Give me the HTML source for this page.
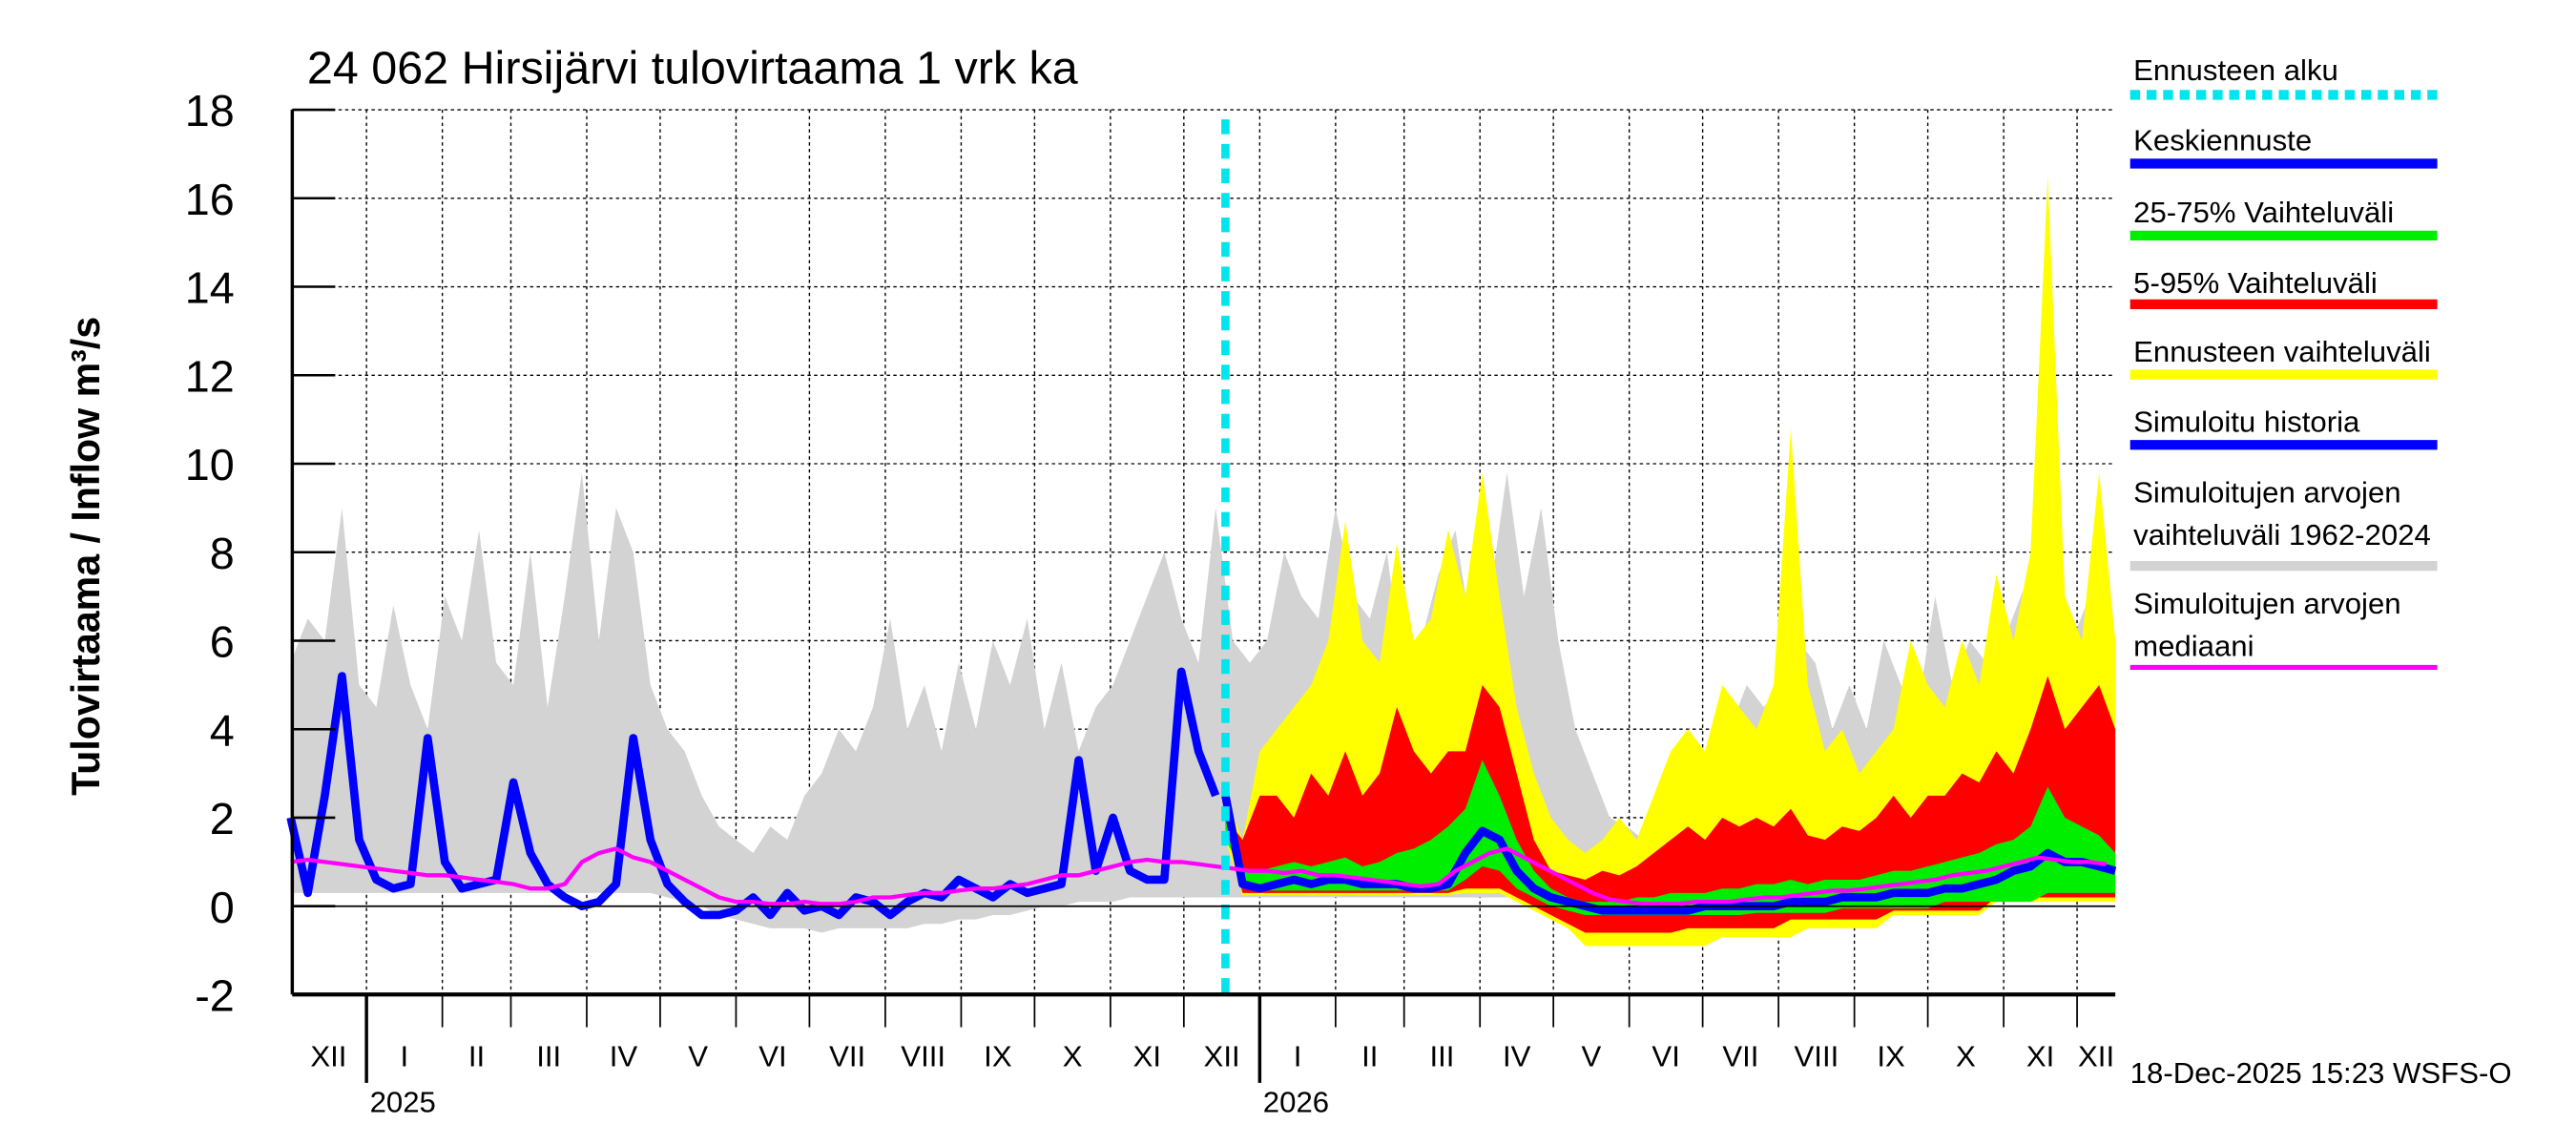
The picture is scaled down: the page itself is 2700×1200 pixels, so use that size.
<!DOCTYPE html>
<html><head><meta charset="utf-8"><style>
html,body{margin:0;padding:0;background:#fff;}
svg{display:block;font-family:"Liberation Sans",sans-serif;}
</style></head><body>
<svg id="chart" width="2700" height="1200" viewBox="0 0 1560 700" preserveAspectRatio="none" xmlns="http://www.w3.org/2000/svg">
<rect x="0" y="0" width="1560" height="700" fill="#fff"/>
<g id="grid"></g>
<g id="series"></g>
<g id="axes"></g>
<text x="186" y="51" font-size="28">24 062 Hirsijärvi tulovirtaama 1 vrk ka</text>
<text transform="translate(60,340) rotate(-90)" font-size="24" font-weight="bold" text-anchor="middle">Tulovirtaama / Inflow    m³/s</text>
<text x="1290" y="662" font-size="18">18-Dec-2025 15:23 WSFS-O</text>
<g id="legend"></g>
</svg>
<script>
// ---- data (weekly samples; day 0 = 1 Dec 2024) ----
const histStep = 7;
const greyUpper = [5.5,6.5,6,9,5, 4.5,6.8,5,4, 7,6,8.5,5.5, 5,8,4.5,7,9.8, 6,9,8,5, 4,3.5,2.5,1.8,1.5, 1.2,1.8,1.5,2.5, 3,4,3.5,4.5, 6.5,4,5,3.5,5.5, 4,6,5,6.5, 4,5.5,3.5,4.5, 5,6,7,8,6.5, 5.5,9,6,5.5, 6,8,7,6.5, 9,7,6.5,8, 5,6,7.5,8.5,6, 7,9.8,7,9, 6,4,3,2,1.8, 1.5,1.8,1.2,2.5, 3,4,5,4.5, 5,6,5.5,4,5, 4,6,5,4.5, 7,5,6,5.5, 6,7,8,6.5, 6,7,6.5];
const greyLower = [0.3,0.3,0.3,0.3,0.3,0.3,0.3,0.3,0.3,0.3,0.3,0.3,0.3,0.3,0.3,0.3,0.3,0.3,0.3,0.3,0.3,0.3, 0.2,0.1,0,-0.2,-0.3, -0.4,-0.5,-0.5,-0.5,-0.6,-0.5,-0.5,-0.5,-0.5,-0.5,-0.4,-0.4,-0.3,-0.3,-0.2,-0.2,-0.1, 0,0,0.1,0.1,0.1,0.2,0.2,0.2,0.2, 0.2,0.2,0.2,0.2,0.2,0.2,0.2,0.2,0.2,0.2,0.2,0.2,0.2,0.2,0.2,0.2,0.2,0.2,0.2,0.2,0.2, 0.2,0.1,0,-0.2,-0.4, -0.5,-0.6,-0.6,-0.7,-0.7,-0.6,-0.6,-0.6,-0.5,-0.5,-0.4,-0.4,-0.3,-0.3,-0.2,-0.1,0, 0,0.1,0.1,0.1,0.1,0.2,0.2,0.2,0.2,0.2,0.2];
const medianVals = [1,1.05,1,0.95,0.9, 0.85,0.8,0.75,0.7, 0.7,0.65,0.6,0.55, 0.5,0.4,0.4,0.5,1.0, 1.2,1.3,1.1,1.0, 0.8,0.6,0.4,0.2,0.1, 0.1,0.05,0.05,0.1, 0.05,0.05,0.1,0.2, 0.2,0.25,0.3,0.3,0.35, 0.4,0.4,0.45,0.5, 0.6,0.7,0.7,0.8, 0.9,1,1.05,1,1, 0.95,0.9,0.85,0.8, 0.8,0.75,0.8,0.7, 0.7,0.65,0.6,0.55, 0.5,0.45,0.5,0.8,1.0, 1.2,1.3,1.1,0.9, 0.7,0.5,0.3,0.15,0.1, 0.05,0.05,0.05,0.1, 0.1,0.1,0.15,0.2, 0.2,0.25,0.3,0.35,0.35, 0.4,0.45,0.5,0.55, 0.6,0.7,0.75,0.8, 0.9,1,1.1,1.05, 1,1,0.95];
const simHistory = [2,0.3,2.5,5.2,1.5,0.6,0.4,0.5,3.8,1,0.4,0.5,0.6,2.8,1.2,0.5,0.2,0,0.1,0.5,3.8,1.5,0.5,0.1,-0.2,-0.2,-0.1,0.2,-0.2,0.3,-0.1,0,-0.2,0.2,0.1,-0.2,0.1,0.3,0.2,0.6,0.4,0.2,0.5,0.3,0.4,0.5,3.3,0.8,2,0.8,0.6,0.6,5.3,3.5,2.5];
const fcStartDay = 382;
const fcStep = 7;
const yellowUp = [2.5,1.5,3.5,4,4.5,5,6,8.7,6,5.5,8.2,6,6.5,8.5,7,9.8,7,4.5,3,2,1.5,1.2,1.5,2,1.5,2.5,3.5,4,3.5,5,4.5,4,5,10.8,5,3.5,4,3,3.5,4,6,5,4.5,6,5,7.5,6,8,16.5,7,6,9.8,6];
const redUp = [2,1.5,2.5,2.5,2,3,2.5,3.5,2.5,3,4.5,3.5,3,3.5,3.5,5,4.5,3,1.5,0.8,0.7,0.6,0.8,0.7,0.9,1.2,1.5,1.8,1.5,2,1.8,2,1.8,2.2,1.6,1.5,1.8,1.7,2,2.5,2,2.5,2.5,3,2.8,3.5,3,4,5.2,4,4.5,5,4];
const greenUp = [1.5,0.8,0.8,0.9,1,0.9,1,1.1,0.9,1,1.2,1.3,1.5,1.8,2.2,3.3,2.5,1.5,0.8,0.4,0.2,0.1,0.1,0.1,0.2,0.2,0.3,0.3,0.3,0.4,0.4,0.5,0.5,0.6,0.5,0.6,0.6,0.6,0.7,0.8,0.8,0.9,1,1.1,1.2,1.4,1.5,1.8,2.7,2,1.8,1.6,1.2];
const meanFc = [2.5,0.5,0.4,0.5,0.6,0.5,0.6,0.6,0.5,0.5,0.5,0.4,0.4,0.5,1.2,1.7,1.5,0.8,0.4,0.2,0.1,0,-0.1,-0.1,-0.1,-0.1,-0.1,-0.1,0,0,0,0,0,0.1,0.1,0.1,0.2,0.2,0.2,0.3,0.3,0.3,0.4,0.4,0.5,0.6,0.8,0.9,1.2,1,1,0.9,0.8];
const greenLo = [2,0.4,0.35,0.35,0.35,0.35,0.35,0.35,0.35,0.35,0.35,0.35,0.35,0.35,0.6,0.9,0.8,0.4,0.2,0,-0.1,-0.2,-0.2,-0.2,-0.2,-0.2,-0.2,-0.2,-0.2,-0.2,-0.2,-0.15,-0.15,-0.15,-0.15,-0.15,-0.05,-0.05,-0.05,-0.05,-0.05,-0.05,0.1,0.1,0.1,0.1,0.1,0.1,0.3,0.3,0.3,0.3,0.3];
const redLo = [1.8,0.3,0.3,0.3,0.3,0.3,0.3,0.3,0.3,0.3,0.3,0.3,0.3,0.3,0.4,0.4,0.4,0.2,0,-0.2,-0.4,-0.6,-0.6,-0.6,-0.6,-0.6,-0.6,-0.5,-0.5,-0.5,-0.5,-0.5,-0.5,-0.3,-0.3,-0.3,-0.3,-0.3,-0.3,-0.1,-0.1,-0.1,-0.1,-0.1,-0.1,0.2,0.2,0.2,0.2,0.2,0.2,0.2,0.2];
const yellowLo = [1.5,0.25,0.25,0.25,0.25,0.25,0.25,0.25,0.25,0.25,0.25,0.25,0.25,0.25,0.3,0.3,0.3,0.1,-0.1,-0.3,-0.5,-0.9,-0.9,-0.9,-0.9,-0.9,-0.9,-0.9,-0.9,-0.7,-0.7,-0.7,-0.7,-0.7,-0.5,-0.5,-0.5,-0.5,-0.5,-0.2,-0.2,-0.2,-0.2,-0.2,-0.2,0.1,0.1,0.1,0.1,0.1,0.1,0.1,0.1];
const yTicks = [-2,0,2,4,6,8,10,12,14,16,18];
const monthLabels = ["XII","I","II","III","IV","V","VI","VII","VIII","IX","X","XI","XII","I","II","III","IV","V","VI","VII","VIII","IX","X","XI","XII"];
const monthLengths = [31,31,28,31,30,31,30,31,31,30,31,30,31,31,28,31,30,31,30,31,31,30,31,30,31];
const yearLabels = ["2025","2026"];
const forecastStartDay = 382;

// ---- axes ----
const X0 = 177, X1 = 1281, Y0 = 608, Y1 = 67;
const pxPerDay = 1.482;
const xOf = d => Math.min(X1, 176 + d * pxPerDay);
const yOf = v => 554 - v * 27.05;
const NS = "http://www.w3.org/2000/svg";
function mk(tag, attrs, parent) {
  const e = document.createElementNS(NS, tag);
  for (const k in attrs) e.setAttribute(k, attrs[k]);
  parent.appendChild(e);
  return e;
}
const grid = document.getElementById('grid');
const series = document.getElementById('series');
const axes = document.getElementById('axes');
const legend = document.getElementById('legend');

yTicks.forEach(v => {
  const y = yOf(v);
  if (v > -2) {
    const l = mk('line', {x1: X0, x2: X1, y1: y, y2: y, stroke: '#000', 'stroke-width': 0.8, 'stroke-dasharray': '2,2'}, grid);
    
    
  }
  const t = mk('line', {x1: X0, x2: X0 + 26, y1: y, y2: y, stroke: '#000', 'stroke-width': 1.5}, axes);
  
  
  const lab = mk('text', {x: 142, y: y + 10, 'font-size': 27, 'text-anchor': 'end'}, axes);
  lab.textContent = v;
  
  
});

let day = 0;
monthLabels.forEach((m, i) => {
  const start = day, end = day + monthLengths[i];
  const xs = xOf(start), xe = xOf(end);
  if (i > 0) {
    const g = mk('line', {x1: xs, x2: xs, y1: Y1, y2: Y0, stroke: '#000', 'stroke-width': 0.8, 'stroke-dasharray': '2,2'}, grid);
    
    
    const isYear = (m === "I");
    const tk = mk('line', {x1: xs, x2: xs, y1: Y0, y2: isYear ? 662 : 628, stroke: '#000', 'stroke-width': isYear ? 2 : 1}, axes);
    
    
  }
  const lab = mk('text', {x: (xs + xe) / 2, y: 652, 'font-size': 18, 'text-anchor': 'middle'}, axes);
  lab.textContent = m;
  
  
  if (m === "I") {
    const yl = mk('text', {x: xs + 2, y: 680, 'font-size': 18}, axes);
    yl.textContent = yearLabels[start < 365 ? 0 : 1];
    
    
  }
  day = end;
});

const ax1 = mk('line', {x1: X0, x2: X0, y1: Y1, y2: Y0, stroke: '#000', 'stroke-width': 2}, axes);


const ax2 = mk('line', {x1: X0, x2: X1, y1: Y0, y2: Y0, stroke: '#000', 'stroke-width': 2.5}, axes);


const zl = mk('line', {x1: X0, x2: X1, y1: yOf(0), y2: yOf(0), stroke: '#000', 'stroke-width': 1}, axes);



function bandPath(up, lo, startDay, step) {
  let p = '';
  up.forEach((v, i) => { p += (i ? 'L' : 'M') + xOf(startDay + i * step).toFixed(1) + ',' + yOf(v).toFixed(1); });
  for (let i = lo.length - 1; i >= 0; i--) p += 'L' + xOf(startDay + i * step).toFixed(1) + ',' + yOf(lo[i]).toFixed(1);
  return p + 'Z';
}
function linePts(vals, startDay, step) {
  return vals.map((v, i) => xOf(startDay + i * step).toFixed(1) + ',' + yOf(v).toFixed(1)).join(' ');
}

const gb = mk('path', {d: bandPath(greyUpper, greyLower, 0, histStep), fill: '#d3d3d3'}, series);


const yb = mk('path', {d: bandPath(yellowUp, yellowLo, fcStartDay, fcStep), fill: '#ffff00'}, series);


const rb = mk('path', {d: bandPath(redUp, redLo, fcStartDay, fcStep), fill: '#ff0000'}, series);


const grb = mk('path', {d: bandPath(greenUp, greenLo, fcStartDay, fcStep), fill: '#00ee00'}, series);


const sh = mk('polyline', {points: linePts(simHistory, 0, histStep), fill: 'none', stroke: '#0000ff', 'stroke-width': 5, 'stroke-linejoin': 'round'}, series);


const mf = mk('polyline', {points: linePts(meanFc, fcStartDay, fcStep), fill: 'none', stroke: '#0000ff', 'stroke-width': 5, 'stroke-linejoin': 'round'}, series);


const md = mk('polyline', {points: linePts(medianVals, 0, histStep), fill: 'none', stroke: '#ff00ff', 'stroke-width': 2.5}, series);


const fs = mk('line', {x1: xOf(forecastStartDay), x2: xOf(forecastStartDay), y1: 73, y2: Y0, stroke: '#00e5ee', 'stroke-width': 5, 'stroke-dasharray': '9,6'}, series);



const legItems = [
  {t: ["Ennusteen alku"], c: '#00e5ee', dash: true, ty: 49, ly: 58},
  {t: ["Keskiennuste"], c: '#0000ff', ty: 92, ly: 100},
  {t: ["25-75% Vaihteluväli"], c: '#00ee00', ty: 136, ly: 144},
  {t: ["5-95% Vaihteluväli"], c: '#ff0000', ty: 179, ly: 186},
  {t: ["Ennusteen vaihteluväli"], c: '#ffff00', ty: 221, ly: 229},
  {t: ["Simuloitu historia"], c: '#0000ff', ty: 264, ly: 272},
  {t: ["Simuloitujen arvojen", "vaihteluväli 1962-2024"], c: '#d3d3d3', ty: 307, ly: 346},
  {t: ["Simuloitujen arvojen", "mediaani"], c: '#ff00ff', ty: 375, ly: 408, thin: true}
];
legItems.forEach(it => {
  it.t.forEach((s, j) => {
    const tx = mk('text', {x: 1292, y: it.ty + j * 26, 'font-size': 18}, legend);
    tx.textContent = s;
    
    
  });
  const attrs = {x1: 1290, x2: 1476, y1: it.ly, y2: it.ly, stroke: it.c, 'stroke-width': it.thin ? 3 : 6};
  if (it.dash) attrs['stroke-dasharray'] = '6,4';
  const ln = mk('line', attrs, legend);
  
  
});
</script>
</body></html>
